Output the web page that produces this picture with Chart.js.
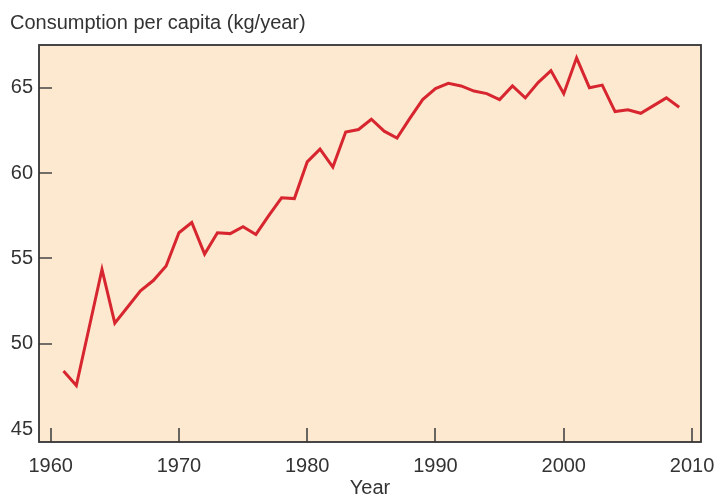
<!DOCTYPE html>
<html>
<head>
<meta charset="utf-8">
<script src="https://cdn.jsdelivr.net/npm/chart.js@4"></script>
<style>
  body { margin: 0; background: #fff; }
  #box { width: 717px; height: 500px; }
</style>
</head>
<body>
<div id="box"><canvas id="grafico"></canvas></div>
<script>
const anos = [
    1961, 1962, 1963, 1964, 1965, 1966, 1967, 1968, 1969, 1970,
    1971, 1972, 1973, 1974, 1975, 1976, 1977, 1978, 1979, 1980,
    1981, 1982, 1983, 1984, 1985, 1986, 1987, 1988, 1989, 1990,
    1991, 1992, 1993, 1994, 1995, 1996, 1997, 1998, 1999, 2000,
    2001, 2002, 2003, 2004, 2005, 2006, 2007, 2008, 2009
];
const consumo = [
    48.4, 47.55, 50.95, 54.35, 51.2, 52.15, 53.1, 53.7, 54.55, 56.5,
    57.1, 55.25, 56.5, 56.45, 56.85, 56.4, 57.5, 58.55, 58.5, 60.65,
    61.4, 60.35, 62.4, 62.55, 63.15, 62.45, 62.05, 63.2, 64.3, 64.95,
    65.25, 65.1, 64.8, 64.65, 64.3, 65.1, 64.4, 65.3, 66.0, 64.65,
    66.75, 65.0, 65.15, 63.6, 63.7, 63.5, 63.95, 64.4, 63.85
];
const ticksX = [1960, 1970, 1980, 1990, 2000, 2010];
const ticksY = [45, 50, 55, 60, 65];

const corFundo = '#fde9cf';
const corLinha = '#d7262f';
const corTexto = '#333333';
const fonte = 'Liberation Sans, Arial, sans-serif';

// fundo, moldura e tracinhos para dentro
const moldura = {
    id: 'moldura',
    beforeDraw(chart) {
        const { ctx, chartArea: a } = chart;
        ctx.save();
        ctx.fillStyle = corFundo;
        ctx.fillRect(a.left, a.top, a.right - a.left, a.bottom - a.top);
        ctx.restore();
    },
    afterDraw(chart) {
        const { ctx, chartArea: a, scales } = chart;
        ctx.save();
        ctx.strokeStyle = '#444';
        ctx.lineWidth = 1.6;
        ctx.beginPath();
        ticksX.forEach(v => {
            const x = Math.round(scales.x.getPixelForValue(v));
            ctx.moveTo(x, a.bottom);
            ctx.lineTo(x, a.bottom - 14);
        });
        ticksY.forEach(v => {
            if (v === 45) return;
            const y = Math.round(scales.y.getPixelForValue(v));
            ctx.moveTo(a.left, y);
            ctx.lineTo(a.left + 13, y);
        });
        ctx.stroke();
        ctx.strokeStyle = '#333';
        ctx.lineWidth = 1.8;
        ctx.strokeRect(a.left, a.top, a.right - a.left, a.bottom - a.top);
        ctx.restore();
    }
};

const ctx = document.getElementById('grafico');
new Chart(ctx, {
    type: 'line',
    data: {
        labels: anos,
        datasets: [{
            data: anos.map((ano, i) => ({ x: ano, y: consumo[i] })),
            borderColor: corLinha,
            borderWidth: 3,
            pointRadius: 0,
            tension: 0,
            fill: false
        }]
    },
    options: {
        responsive: true,
        maintainAspectRatio: false,
        animation: false,
        layout: { padding: { left: 10, right: 16, top: 0, bottom: 0 } },
        plugins: {
            legend: { display: false },
            tooltip: { enabled: false },
            title: {
                display: true,
                text: 'Consumption per capita (kg/year)',
                align: 'start',
                color: corTexto,
                font: { family: fonte, size: 20, weight: 'normal' },
                padding: { top: 11, bottom: 10 }
            }
        },
        scales: {
            x: {
                type: 'linear',
                min: 1959.09,
                max: 2010.7,
                afterBuildTicks: scale => {
                    scale.ticks = ticksX.map(v => ({ value: v }));
                },
                afterFit: scale => {
                    scale.height = 58;
                    scale.paddingLeft = 0;
                    scale.paddingRight = 0;
                },
                grid: { display: false, drawTicks: false },
                border: { display: false },
                ticks: {
                    color: corTexto,
                    font: { family: fonte, size: 20 },
                    padding: 12,
                    maxRotation: 0,
                    callback: v => String(v)
                },
                title: {
                    display: true,
                    text: 'Year',
                    color: corTexto,
                    font: { family: fonte, size: 20 },
                    padding: { top: -3, bottom: 0 }
                }
            },
            y: {
                min: 44.24,
                max: 67.5,
                afterBuildTicks: scale => {
                    scale.ticks = ticksY.map(v => ({ value: v }));
                },
                afterFit: scale => {
                    scale.width = 29;
                    scale.paddingTop = 0;
                    scale.paddingBottom = 0;
                },
                grid: { display: false, drawTicks: false },
                border: { display: false },
                ticks: {
                    color: corTexto,
                    font: { family: fonte, size: 20 },
                    padding: 6
                }
            }
        }
    },
    plugins: [moldura]
});
</script>
</body>
</html>
